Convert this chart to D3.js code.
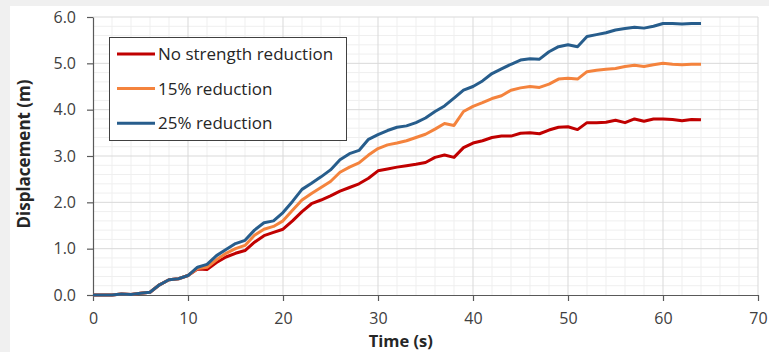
<!DOCTYPE html>
<html>
<head>
<meta charset="utf-8">
<script src="https://cdn.jsdelivr.net/npm/d3@7"></script>
<style>
  body { margin: 0; background: #f0f0f0; }
  svg { display: block; font-family: "Open Sans", sans-serif; }
</style>
</head>
<body>
<script>
// time steps (s)
var times = d3.range(0, 65);

// displacement (m) for each case
var noReduction = [0, 0, 0, 0.02, 0.01, 0.04, 0.06, 0.22, 0.33, 0.35, 0.42,
  0.56, 0.55, 0.70, 0.82, 0.90, 0.96, 1.14, 1.28, 1.35, 1.42,
  1.60, 1.80, 1.97, 2.05, 2.14, 2.24, 2.32, 2.40, 2.52, 2.68,
  2.72, 2.76, 2.79, 2.82, 2.86, 2.97, 3.02, 2.97, 3.18, 3.28,
  3.33, 3.40, 3.43, 3.43, 3.49, 3.50, 3.48, 3.56, 3.62, 3.63,
  3.57, 3.72, 3.72, 3.73, 3.77, 3.72, 3.80, 3.75, 3.80, 3.80,
  3.79, 3.76, 3.79, 3.78];

var reduction15 = [0, 0, 0, 0.02, 0.01, 0.04, 0.06, 0.22, 0.33, 0.35, 0.42,
  0.57, 0.60, 0.76, 0.90, 1.00, 1.07, 1.29, 1.42, 1.48, 1.60,
  1.83, 2.05, 2.19, 2.32, 2.45, 2.65, 2.76, 2.85, 3.02, 3.16,
  3.24, 3.28, 3.33, 3.40, 3.47, 3.58, 3.70, 3.66, 3.96, 4.07,
  4.15, 4.24, 4.30, 4.42, 4.47, 4.50, 4.48, 4.55, 4.66, 4.68,
  4.66, 4.82, 4.85, 4.87, 4.89, 4.93, 4.96, 4.93, 4.97, 5.00,
  4.98, 4.97, 4.98, 4.98];

var reduction25 = [0, 0, 0, 0.02, 0.01, 0.04, 0.06, 0.22, 0.33, 0.35, 0.42,
  0.60, 0.66, 0.85, 0.98, 1.11, 1.18, 1.40, 1.56, 1.60, 1.78,
  2.02, 2.28, 2.41, 2.55, 2.70, 2.92, 3.05, 3.12, 3.36, 3.46,
  3.55, 3.62, 3.65, 3.72, 3.82, 3.96, 4.08, 4.25, 4.42, 4.50,
  4.62, 4.78, 4.88, 4.98, 5.07, 5.10, 5.09, 5.25, 5.36, 5.40,
  5.36, 5.58, 5.62, 5.66, 5.72, 5.75, 5.78, 5.76, 5.80, 5.86,
  5.86, 5.85, 5.86, 5.86];

var seriesNames = ["No strength reduction", "15% reduction", "25% reduction"];
var seriesColors = ["#c00000", "#f4833d", "#275d8c"];
var xTicks = [0, 10, 20, 30, 40, 50, 60, 70];
var yTicks = [0, 1, 2, 3, 4, 5, 6];

var width = 769, height = 352;
var margin = { top: 17, right: 11, bottom: 57, left: 93 };
var w = width - margin.left - margin.right;
var h = height - margin.top - margin.bottom;

var svg = d3.select("body").append("svg")
    .attr("width", width)
    .attr("height", height);

// white chart panel
svg.append("rect")
    .attr("x", 10).attr("y", 6)
    .attr("width", width - 10).attr("height", height - 6)
    .attr("fill", "#ffffff");

var g = svg.append("g")
    .attr("transform", "translate(" + margin.left + "," + margin.top + ")");

var x = d3.scaleLinear().domain([0, 70]).range([0, w]);
var y = d3.scaleLinear().domain([0, 6]).range([h, 0]);

// minor grid
g.append("g").selectAll("line")
    .data(d3.range(0, 71, 2).filter(function(d) { return d % 10 !== 0; }))
    .enter().append("line")
    .attr("x1", function(d) { return x(d); }).attr("x2", function(d) { return x(d); })
    .attr("y1", 0).attr("y2", h)
    .attr("stroke", "#efefef");

g.append("g").selectAll("line")
    .data(d3.range(1, 30).filter(function(d) { return d % 5 !== 0; }))
    .enter().append("line")
    .attr("x1", 0).attr("x2", w)
    .attr("y1", function(d) { return y(d / 5); }).attr("y2", function(d) { return y(d / 5); })
    .attr("stroke", "#efefef");

// major grid
g.append("g").selectAll("line")
    .data(xTicks.slice(1))
    .enter().append("line")
    .attr("x1", function(d) { return x(d); }).attr("x2", function(d) { return x(d); })
    .attr("y1", 0).attr("y2", h)
    .attr("stroke", "#d9d9d9");

g.append("g").selectAll("line")
    .data(yTicks.slice(1))
    .enter().append("line")
    .attr("x1", 0).attr("x2", w)
    .attr("y1", function(d) { return y(d); }).attr("y2", function(d) { return y(d); })
    .attr("stroke", "#d9d9d9");

// axes
var xAxis = g.append("g")
    .attr("transform", "translate(0," + h + ")")
    .call(d3.axisBottom(x).tickValues(xTicks).tickSize(6).tickSizeOuter(0).tickPadding(12));

var yAxis = g.append("g")
    .call(d3.axisLeft(y).tickValues(yTicks).tickFormat(d3.format(".1f")).tickSize(6).tickSizeOuter(0).tickPadding(11));

[xAxis, yAxis].forEach(function(a) {
    a.select(".domain").attr("stroke", "#595959").attr("stroke-width", 1.2);
    a.selectAll(".tick line").attr("stroke", "#595959").attr("stroke-width", 1.2);
    a.selectAll("text")
        .attr("fill", "#404040")
        .style("font-size", "16px")
        .style("font-family", "'Open Sans', sans-serif");
});

// lines
var allSeries = [noReduction, reduction15, reduction25];
var line = d3.line()
    .x(function(d, i) { return x(times[i]); })
    .y(function(d) { return y(d); });

g.selectAll(".series")
    .data(allSeries)
    .enter().append("path")
    .attr("class", "series")
    .attr("d", line)
    .attr("fill", "none")
    .attr("stroke", function(d, i) { return seriesColors[i]; })
    .attr("stroke-width", 3)
    .attr("stroke-linejoin", "round");

// axis titles
svg.append("text")
    .attr("x", margin.left + x(32.4))
    .attr("y", 347)
    .attr("text-anchor", "middle")
    .style("font-size", "16.5px")
    .style("font-weight", "bold")
    .attr("fill", "#262626")
    .text("Time (s)");

svg.append("text")
    .attr("transform", "translate(30," + 154 + ") rotate(-90)")
    .attr("text-anchor", "middle")
    .style("font-size", "17px")
    .style("font-weight", "bold")
    .attr("fill", "#262626")
    .text("Displacement (m)");

// legend
var legend = svg.append("g");
legend.append("rect")
    .attr("x", 109.5).attr("y", 37.5)
    .attr("width", 237).attr("height", 103)
    .attr("fill", "#ffffff")
    .attr("stroke", "#404040")
    .attr("stroke-width", 1);

var items = legend.selectAll(".item")
    .data(seriesNames)
    .enter().append("g")
    .attr("transform", function(d, i) { return "translate(0," + (54 + i * 34.6) + ")"; });

items.append("line")
    .attr("x1", 117).attr("x2", 155)
    .attr("stroke", function(d, i) { return seriesColors[i]; })
    .attr("stroke-width", 3);

items.append("text")
    .attr("x", 158)
    .attr("dy", "0.35em")
    .style("font-size", "17px")
    .attr("fill", "#262626")
    .text(function(d) { return d; });
</script>
</body>
</html>
